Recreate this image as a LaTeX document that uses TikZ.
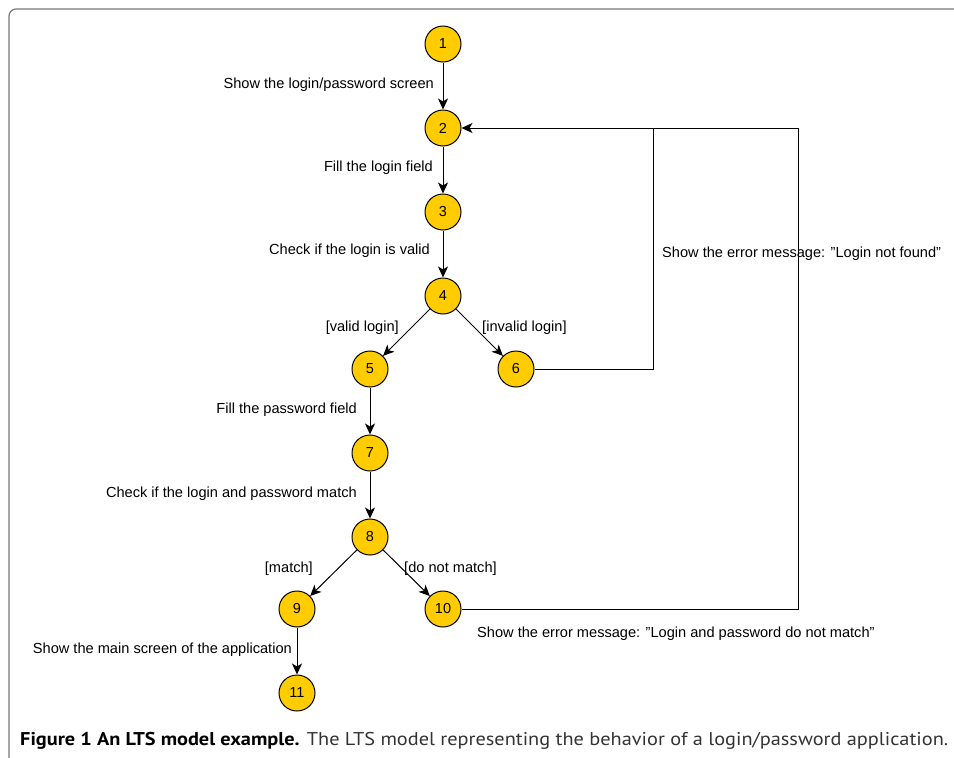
\documentclass[tikz,border=0pt]{standalone}
\usepackage{fontspec}
\setmainfont{Liberation Sans}[Ligatures=ResetAll]
\newfontfamily\capfont{PT Sans}
\usetikzlibrary{arrows.meta}
\definecolor{gold}{HTML}{FFCC00}
\definecolor{framegray}{HTML}{777777}
\begin{document}
\begin{tikzpicture}[x=1pt,y=-1pt,
  state/.style={circle,draw=black,line width=1pt,fill=gold,minimum size=36pt,inner sep=0pt,font=\fontsize{14.5}{16}\selectfont},
  lbl/.style={inner sep=0pt,font=\fontsize{14.6}{17}\selectfont},
  arr/.style={-{Stealth[length=11pt,width=10pt,inset=3pt]},line width=1pt},
  link/.style={line width=1pt}]
\useasboundingbox (0,0) rectangle (954,758);
% frame
\draw[framegray,line width=1.2pt,rounded corners=7pt] (9,800) -- (9,9) -- (970,9);
% states
\node[state] (n1) at (443,44) {1};
\node[state] (n2) at (443,128) {2};
\node[state] (n3) at (443,212) {3};
\node[state] (n4) at (443,296) {4};
\node[state] (n5) at (370,369) {5};
\node[state] (n6) at (516,369) {6};
\node[state] (n7) at (370,453) {7};
\node[state] (n8) at (370,537) {8};
\node[state] (n9) at (297,609) {9};
\node[state] (n10) at (443,609) {10};
\node[state] (n11) at (297,693) {11};
\coordinate (j6) at (653,128);
\coordinate (c10) at (798,609);
% connectors
\draw[arr] (n1) -- (n2);
\draw[arr] (n2) -- (n3);
\draw[arr] (n3) -- (n4);
\draw[arr] (n4) -- (n5);
\draw[arr] (n4) -- (n6);
\draw[arr] (n5) -- (n7);
\draw[arr] (n7) -- (n8);
\draw[arr] (n8) -- (n9);
\draw[arr] (n8) -- (n10);
\draw[arr] (n9) -- (n11);
\draw[link] (n6.east) -| (j6);
\draw[arr] (n10.east) -- (c10) |- (n2.east);
% labels
\node[lbl,anchor=east] (l1) at (434,84.5) {Show the login/password screen};
\node[lbl,anchor=east] (l2) at (433,167.5) {Fill the login field};
\node[lbl,anchor=east] (l3) at (430,250.5) {Check if the login is valid};
\node[lbl,anchor=east] (l4) at (399,327.5) {[valid login]};
\node[lbl,anchor=west] (l5) at (482,327.5) {[invalid login]};
\node[lbl,anchor=east] (l6) at (357,409.5) {Fill the password field};
\node[lbl,anchor=east] (l7) at (357,493.5) {Check if the login and password match};
\node[lbl,anchor=east] (l8) at (313,568.5) {[match]};
\node[lbl,anchor=west] (l9) at (404,568.5) {[do not match]};
\node[lbl,anchor=east] (l10) at (292,649.5) {Show the main screen of the application};
\node[lbl,anchor=west] (l11) at (662,253.5) {Show the error message: "Login not found"};
\node[lbl,anchor=west] (l12) at (477,633.5) {Show the error message: "Login and password do not match"};
% caption
\node[inner sep=0pt,anchor=base west] (cap) at (20,745) {\resizebox{928pt}{\height}{\capfont\fontsize{18.5}{21}\selectfont\textbf{Figure 1 An LTS model example.} \textcolor{black!80}{The LTS model representing the behavior of a login/password application.}}};
\end{tikzpicture}
\end{document}
